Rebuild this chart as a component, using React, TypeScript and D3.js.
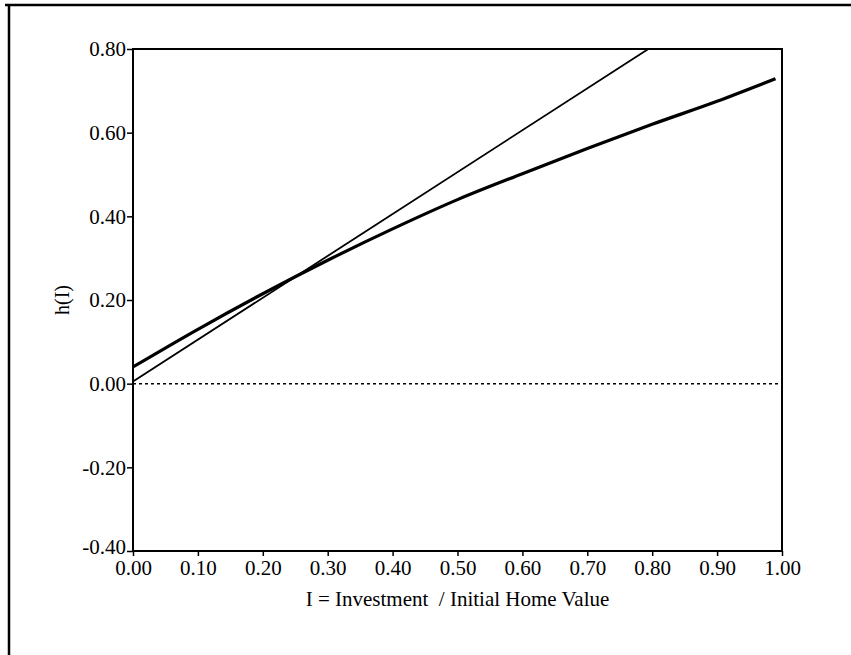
import React, { useEffect, useRef } from 'react'
import * as d3 from 'd3'

// values
const xTicks = [0, 0.1, 0.2, 0.3, 0.4, 0.5, 0.6, 0.7, 0.8, 0.9, 1.0]
const yTicks = [-0.4, -0.2, 0, 0.2, 0.4, 0.6, 0.8]

// thin straight line (45 degree line)
const lineX = [0, 0.794]
const lineY = [0.005, 0.8]

// thick curve h(I)
const curveX = [0, 0.1, 0.2, 0.3, 0.4, 0.5, 0.6, 0.7, 0.8, 0.9, 0.99]
const curveY = [0.04, 0.13, 0.215, 0.295, 0.37, 0.44, 0.502, 0.562, 0.62, 0.675, 0.729]

const width = 851
const height = 655
const margin = { top: 49, right: 69, bottom: 104, left: 133 }
const font = '"Liberation Serif", "Times New Roman", serif'

const App = () => {
  const ref = useRef<SVGSVGElement>(null)

  useEffect(() => {
    const svg = d3.select(ref.current)
    svg.selectAll('*').remove()

    const x = d3.scaleLinear()
      .domain([0, 1])
      .range([margin.left, width - margin.right])
    const y = d3.scaleLinear()
      .domain([-0.4, 0.8])
      .range([height - margin.bottom, margin.top])

    // outer page frame (top and left only are visible)
    svg.append('line')
      .attr('x1', 5).attr('x2', width).attr('y1', 5).attr('y2', 5)
      .attr('stroke', '#000').attr('stroke-width', 2.5)
    svg.append('line')
      .attr('x1', 9).attr('x2', 9).attr('y1', 5).attr('y2', height)
      .attr('stroke', '#000').attr('stroke-width', 2.5)

    // plot box
    svg.append('rect')
      .attr('x', x(0)).attr('y', y(0.8))
      .attr('width', x(1) - x(0)).attr('height', y(-0.4) - y(0.8))
      .attr('fill', 'none').attr('stroke', '#000').attr('stroke-width', 2)

    // hyphen minus like the original, not the unicode minus
    const fmt = (d: number) => d3.format('.2f')(d).replace('\u2212', '-')

    const yAxis = svg.append('g')
      .attr('transform', `translate(${x(0)},0)`)
      .call(d3.axisLeft(y).tickValues(yTicks).tickFormat(d => fmt(d as number)).tickSize(6).tickPadding(1))
    yAxis.select('.domain').remove()
    yAxis.selectAll('line').attr('stroke-width', 1.5)
    yAxis.selectAll('text')
      .attr('font-family', font).attr('font-size', 21).attr('fill', '#000')
    // lowest label sits a touch higher so it clears the 0.00 below it
    yAxis.selectAll<SVGTextElement, number>('text')
      .filter(d => d === -0.4)
      .attr('dy', '0.1em')

    const xAxis = svg.append('g')
      .attr('transform', `translate(0,${y(-0.4)})`)
      .call(d3.axisBottom(x).tickValues(xTicks).tickFormat(d => fmt(d as number)).tickSize(5).tickPadding(4))
    xAxis.select('.domain').remove()
    xAxis.selectAll('line').attr('stroke-width', 1.5)
    xAxis.selectAll('text')
      .attr('font-family', font).attr('font-size', 21).attr('fill', '#000')

    // zero reference
    svg.append('line')
      .attr('x1', x(0)).attr('x2', x(1))
      .attr('y1', y(0)).attr('y2', y(0))
      .attr('stroke', '#000').attr('stroke-width', 1.5)
      .attr('stroke-dasharray', '3,3')

    const line = d3.line<[number, number]>()
      .x(d => x(d[0]))
      .y(d => y(d[1]))

    svg.append('path')
      .datum(lineX.map((v, i) => [v, lineY[i]] as [number, number]))
      .attr('d', line)
      .attr('fill', 'none').attr('stroke', '#000').attr('stroke-width', 1.8)

    svg.append('path')
      .datum(curveX.map((v, i) => [v, curveY[i]] as [number, number]))
      .attr('d', line.curve(d3.curveMonotoneX))
      .attr('fill', 'none').attr('stroke', '#000').attr('stroke-width', 3.2)

    svg.append('text')
      .attr('x', (x(0) + x(1)) / 2).attr('y', 606)
      .attr('text-anchor', 'middle')
      .attr('font-family', font).attr('font-size', 21)
      .attr('xml:space', 'preserve')
      .text('I = Investment  / Initial Home Value')

    svg.append('text')
      .attr('transform', `translate(69,${y(0.2)}) rotate(-90)`)
      .attr('text-anchor', 'middle')
      .attr('font-family', font).attr('font-size', 20)
      .text('h(I)')
  }, [])

  return (
    <svg
      ref={ref}
      width={width}
      height={height}
      style={{ position: 'absolute', left: 0, top: 0, background: '#fff' }}
    />
  )
}

export default App
